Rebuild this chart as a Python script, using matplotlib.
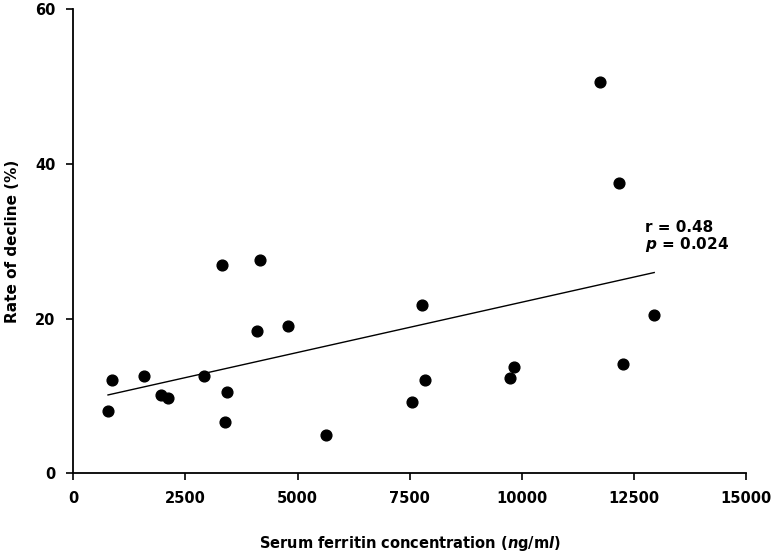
import numpy as np
import matplotlib
matplotlib.use("Agg")
import matplotlib.pyplot as plt

# serum ferritin (ng/ml) vs rate of decline (%)
ferritin = [774, 864, 1577, 1963, 2112, 2907, 3316, 3391, 3428, 4098, 4171,
            4788, 5628, 7555, 7785, 7852, 9732, 9821, 11740, 12172, 12261, 12953]
decline = [8.0, 12.0, 12.6, 10.1, 9.7, 12.6, 26.9, 6.6, 10.5, 18.4, 27.6,
           19.1, 4.95, 9.25, 21.8, 12.0, 12.3, 13.7, 50.6, 37.5, 14.1, 20.4]

x_ticks = [0, 2500, 5000, 7500, 10000, 12500, 15000]
y_ticks = [0, 20, 40, 60]

plt.rcParams['font.family'] = 'DejaVu Sans'
plt.rcParams['font.weight'] = 'bold'
plt.rcParams['mathtext.fontset'] = 'custom'
plt.rcParams['mathtext.it'] = 'DejaVu Sans:italic:bold'
plt.rcParams['mathtext.rm'] = 'DejaVu Sans:bold'

fig = plt.figure(figsize=(7.75, 5.53), dpi=100)
ax = fig.add_axes([0.0946, 0.1441, 0.868, 0.8396])

ax.scatter(ferritin, decline, s=60, color='black', zorder=3)

# linear fit over the data range
slope, icept = np.polyfit(ferritin, decline, 1)
xs = np.array([min(ferritin), max(ferritin)])
ax.plot(xs, slope * xs + icept, color='black', lw=1)

ax.text(12750, 28.3, 'r = 0.48\n$p$ = 0.024', fontsize=11,
        fontweight='bold', linespacing=1.05, va='bottom', ha='left')

ax.set_xlim(0, 15000)
ax.set_ylim(0, 60)
ax.set_xticks(x_ticks)
ax.set_yticks(y_ticks)
ax.spines['top'].set_visible(False)
ax.spines['right'].set_visible(False)
for s in ['left', 'bottom']:
    ax.spines[s].set_linewidth(1.3)
ax.tick_params(direction='out', length=5, width=1.2, labelsize=10.5, pad=8)
for lab in ax.get_xticklabels() + ax.get_yticklabels():
    lab.set_fontweight('bold')

ax.set_xlabel('Serum ferritin concentration ($n$g/m$l$)', fontsize=10.5,
              fontweight='bold', labelpad=20)
ax.set_ylabel('Rate of decline (%)', fontsize=11, fontweight='bold', labelpad=11)

fig.savefig('out.png', dpi=100)
